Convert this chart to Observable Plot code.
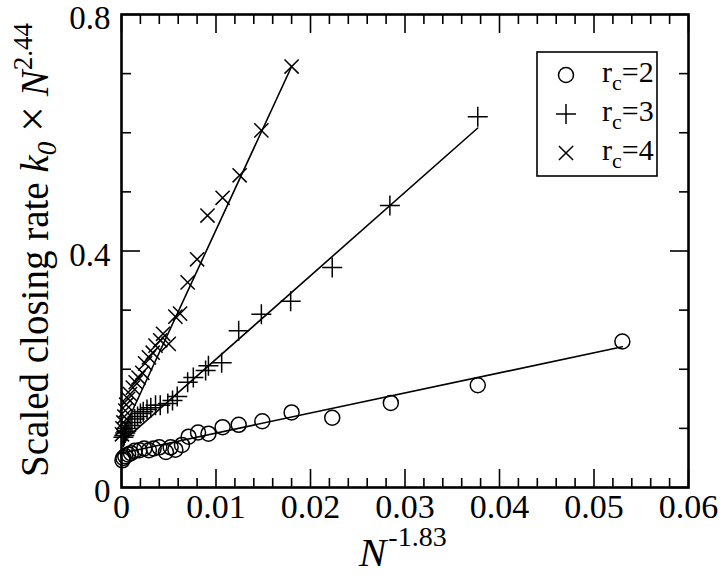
<!DOCTYPE html>
<html><head><meta charset="utf-8">
<script src="https://cdn.jsdelivr.net/npm/d3@7"></script>
<script src="https://cdn.jsdelivr.net/npm/@observablehq/plot@0.6"></script>
<style>html,body{margin:0;padding:0;background:#fff}#chart svg{display:block}</style>
</head><body><div id="chart"></div>
<script>
// ---- data ----
const rc2X = [0.0530,0.0377,0.0285,0.0223,0.0180,0.0149,0.0124,0.0107,0.0092,0.0081,0.0071,0.0064,0.0057,0.0052,0.0047,0.0040,0.0034,0.0029,0.0024,0.0019,0.0014,0.0010,0.0007,0.0004,0.0002,0.0001];
const rc2Y = [0.247,0.173,0.143,0.118,0.127,0.112,0.106,0.102,0.091,0.093,0.086,0.072,0.064,0.068,0.060,0.068,0.066,0.063,0.066,0.063,0.062,0.058,0.056,0.053,0.050,0.046];
const rc3X = [0.0377,0.0284,0.0223,0.0179,0.0148,0.0124,0.0106,0.0092,0.0089,0.0076,0.0070,0.0059,0.0054,0.0049,0.0041,0.0036,0.0031,0.0027,0.0023,0.0020,0.0017,0.0014,0.0011,0.0009,0.0007,0.0005,0.0004,0.0003,0.0002];
const rc3Y = [0.627,0.477,0.372,0.315,0.293,0.265,0.211,0.206,0.198,0.186,0.178,0.154,0.147,0.142,0.139,0.139,0.135,0.132,0.128,0.125,0.120,0.116,0.110,0.105,0.100,0.095,0.092,0.088,0.085];
const rc4X = [0.0180,0.0148,0.0125,0.0107,0.0091,0.0080,0.0070,0.0062,0.0057,0.0050,0.0044,0.0041,0.0036,0.0033,0.0029,0.0025,0.0022,0.0018,0.0015,0.0012,0.0009,0.0007,0.0005,0.0004,0.0003,0.0002,0.0001,0.00005];
const rc4Y = [0.712,0.604,0.528,0.490,0.460,0.386,0.347,0.294,0.289,0.243,0.260,0.249,0.240,0.228,0.220,0.210,0.194,0.186,0.178,0.169,0.158,0.150,0.140,0.130,0.120,0.110,0.100,0.090];
// fitted lines (end points)
const fit2X = [0, 0.0530], fit2Y = [0.058, 0.238];
const fit3X = [0, 0.0377], fit3Y = [0.076, 0.608];
const fit4X = [0, 0.0180], fit4Y = [0.090, 0.712];
// ticks
const xMajor = [0, 0.01, 0.02, 0.03, 0.04, 0.05, 0.06];
const xMinor = [0.002,0.004,0.006,0.008,0.012,0.014,0.016,0.018,0.022,0.024,0.026,0.028,0.032,0.034,0.036,0.038,0.042,0.044,0.046,0.048,0.052,0.054,0.056,0.058];
const yMajor = [0, 0.4, 0.8];
const yMinor = [0.1, 0.2, 0.3, 0.5, 0.6, 0.7];
const xTickLabels = ["0","0.01","0.02","0.03","0.04","0.05","0.06"];
const yTickLabels = ["0","0.4","0.8"];
const legendLabels = ["2","3","4"];
const legendSymbols = ["circle","plus","times"];

const zip = (xs, ys) => xs.map((x, i) => ({x, y: ys[i]}));
const serif = "\"Liberation Serif\", \"Times New Roman\", Times, Tinos, \"DejaVu Serif\", \"Noto Serif\", serif";
const W = 720, H = 575;

const tickOpts = {text: null, stroke: "black", strokeWidth: 1.6};
const chart = Plot.plot({
  width: W, height: H,
  marginLeft: 121, marginRight: 32, marginTop: 14, marginBottom: 88,
  style: {fontFamily: serif, background: "white", color: "black"},
  x: {domain: [0, 0.06], label: null},
  y: {domain: [0, 0.8], label: null},
  marks: [
    Plot.axisX(xMinor, {...tickOpts, anchor: "bottom", tickSize: -9}),
    Plot.axisX(xMajor, {...tickOpts, anchor: "bottom", tickSize: -18}),
    Plot.axisX(xMinor, {...tickOpts, anchor: "top", tickSize: -9}),
    Plot.axisX(xMajor, {...tickOpts, anchor: "top", tickSize: -18}),
    Plot.axisY(yMinor, {...tickOpts, anchor: "left", tickSize: -10}),
    Plot.axisY(yMajor, {...tickOpts, anchor: "left", tickSize: -19}),
    Plot.axisY(yMinor, {...tickOpts, anchor: "right", tickSize: -10}),
    Plot.axisY(yMajor, {...tickOpts, anchor: "right", tickSize: -19}),
    Plot.axisX(xMajor, {anchor: "bottom", tickSize: 0, tickPadding: 6, fontSize: 34, fill: "black", fontFamily: serif,
      tickFormat: (d, i) => xTickLabels[i]}),
    Plot.axisY(yMajor, {anchor: "left", tickSize: 0, tickPadding: 11, fontSize: 33, fill: "black", fontFamily: serif,
      dy: 4, tickFormat: (d, i) => yTickLabels[i]}),
    Plot.line(zip(fit2X, fit2Y), {x: "x", y: "y", stroke: "black", strokeWidth: 1.6}),
    Plot.line(zip(fit3X, fit3Y), {x: "x", y: "y", stroke: "black", strokeWidth: 1.6}),
    Plot.line(zip(fit4X, fit4Y), {x: "x", y: "y", stroke: "black", strokeWidth: 1.6}),
    Plot.dot(zip(rc2X, rc2Y), {x: "x", y: "y", symbol: "circle", r: 7.5, stroke: "black", fill: "none", strokeWidth: 1.5}),
    Plot.dot(zip(rc3X, rc3Y), {x: "x", y: "y", symbol: "plus", r: 6.5, stroke: "black", strokeWidth: 1.5}),
    Plot.dot(zip(rc4X, rc4Y), {x: "x", y: "y", symbol: "times", r: 6.5, stroke: "black", strokeWidth: 1.5}),
    Plot.frame({stroke: "black", strokeWidth: 2.6})
  ]
});
document.getElementById("chart").appendChild(chart);

const svg = d3.select(chart);
// y-axis title
const yt = svg.append("text")
  .attr("transform", "translate(48,250) rotate(-90)")
  .attr("text-anchor", "middle")
  .attr("font-family", serif).attr("font-size", 39).attr("fill", "black");
yt.append("tspan").text("Scaled closing rate ");
yt.append("tspan").attr("font-style", "italic").text("k");
yt.append("tspan").attr("font-style", "italic").attr("font-size", 27).attr("dy", 8).text("0");
yt.append("tspan").attr("dy", -8).text(" ");
yt.append("tspan").attr("font-size", 46).text("×");
yt.append("tspan").text(" ");
yt.append("tspan").attr("font-style", "italic").text("N");
yt.append("tspan").attr("font-size", 27).attr("dy", -16).text("2.44");

// x-axis title
const xt = svg.append("text")
  .attr("x", 359).attr("y", 566).attr("text-anchor", "start")
  .attr("font-family", serif).attr("font-size", 41).attr("fill", "black");
xt.append("tspan").attr("font-style", "italic").text("N");
xt.append("tspan").attr("font-size", 28).attr("dy", -20).attr("dx", 2).text("-1.83");

// legend
const lg = svg.append("g");
lg.append("rect").attr("x", 537).attr("y", 52).attr("width", 120).attr("height", 124)
  .attr("fill", "white").attr("stroke", "black").attr("stroke-width", 1.6);
const symMap = {circle: d3.symbolCircle, plus: d3.symbolPlus, times: d3.symbolTimes};
const symR = {circle: 7.5, plus: 6.5, times: 6.5};
legendLabels.forEach((lab, i) => {
  const cy = 75 + i * 39;
  const s = legendSymbols[i];
  lg.append("path")
    .attr("transform", `translate(566,${cy})`)
    .attr("d", d3.symbol(symMap[s], Math.PI * symR[s] * symR[s])())
    .attr("fill", "none").attr("stroke", "black").attr("stroke-width", 1.5);
  const t = lg.append("text").attr("x", 602).attr("y", cy + 7).attr("text-anchor", "start")
    .attr("font-family", serif).attr("font-size", 30).attr("fill", "black");
  t.append("tspan").text("r");
  t.append("tspan").attr("font-size", 22).attr("dy", 8).text("c");
  t.append("tspan").attr("dy", -8).text("=" + lab);
});
</script>
</body></html>
